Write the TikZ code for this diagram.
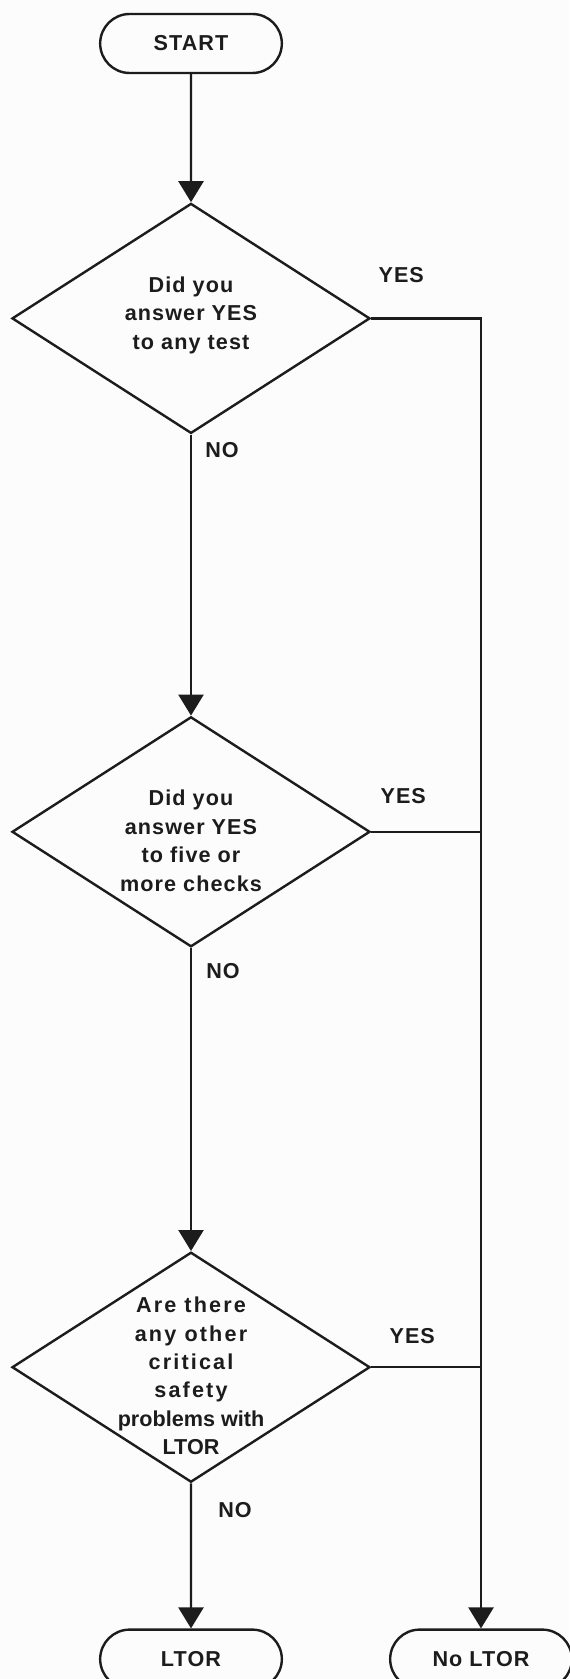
\documentclass[tikz,border=0pt]{standalone}
\usepackage{fontspec}
\setmainfont{Liberation Sans}
\usepackage{tikz}
\usetikzlibrary{shapes.geometric, shapes.misc, arrows.meta, positioning}

\definecolor{ink}{HTML}{1C1C1C}
\definecolor{paper}{HTML}{FCFCFC}
\newcommand{\chartfont}{\bfseries\fontsize{10.8}{14.2}\selectfont\addfontfeatures{LetterSpace=5}}
\newcommand{\widely}[1]{{\addfontfeatures{LetterSpace=10}#1}}
\newcommand{\plainly}[1]{{\addfontfeatures{LetterSpace=0}#1}}

\begin{document}
\begin{tikzpicture}[
    terminal/.style={
        rounded rectangle,
        minimum width=97.5pt,
        minimum height=29.5pt,
        draw=ink,
        line width=1.2pt,
        font=\chartfont,
        text=ink
    },
    decision/.style={
        diamond,
        minimum width=179pt,
        minimum height=115pt,
        inner sep=0pt,
        draw=ink,
        line width=1.2pt
    },
    ask/.style={
        align=center,
        inner sep=0pt,
        font=\chartfont,
        text=ink
    },
    tag/.style={
        inner sep=0pt,
        font=\chartfont,
        text=ink
    },
    flow/.style={
        -{Triangle[width=12.5pt,length=10.5pt]},
        draw=ink,
        line width=1.2pt
    },
    branch/.style={
        draw=ink,
        line width=1.2pt
    }
]

    \useasboundingbox (0,0) rectangle (284.5pt,-839.5pt);
    \fill[paper] (0,0) rectangle (284.5pt,-839.5pt);

    \node (start) [terminal] at (95.5pt,-21.75pt) {START};

    \node (test) [decision, below=64pt of start] {};
    \node (checks) [decision, below=140.5pt of test] {};
    \node (other) [decision, below=151.5pt of checks] {};

    \node (ltor) [terminal, below=72.5pt of other] {LTOR};
    \node (noltor) [terminal] at ([xshift=145pt]ltor) {No LTOR};

    % questions inside the diamonds
    \node (q1) [ask, yshift=1.5pt] at (test) {Did you\\answer YES\\to any test};
    \node (q2) [ask, yshift=-4.5pt] at (checks) {Did you\\answer YES\\to five or\\more checks};
    \node (q3) [ask, yshift=-4.4pt] at (other) {
        \widely{Are there}\\
        \widely{any other}\\
        \widely{critical}\\
        \widely{safety}\\
        \plainly{problems with}\\
        \plainly{LTOR}
    };

    % answers
    \node (yes1) [tag] at ([xshift=15pt, yshift=21.5pt]test.east) {YES};
    \node (yes2) [tag] at ([xshift=16pt, yshift=18pt]checks.east) {YES};
    \node (yes3) [tag] at ([xshift=20.5pt, yshift=15.5pt]other.east) {YES};
    \node (no1) [tag] at ([xshift=15.5pt, yshift=-7.5pt]test.south) {NO};
    \node (no2) [tag] at ([xshift=16pt, yshift=-11.5pt]checks.south) {NO};
    \node (no3) [tag] at ([xshift=22pt, yshift=-13.5pt]other.south) {NO};

    \draw [flow] (start) -- (test);
    \draw [flow] (test) -- (checks);
    \draw [flow] (checks) -- (other);
    \draw [flow] (other) -- (ltor);
    \draw [flow] (test.east) -| (noltor);
    \draw [branch] (checks.east) -- (checks.east -| noltor.north);
    \draw [branch] (other.east) -- (other.east -| noltor.north);

\end{tikzpicture}
\end{document}
